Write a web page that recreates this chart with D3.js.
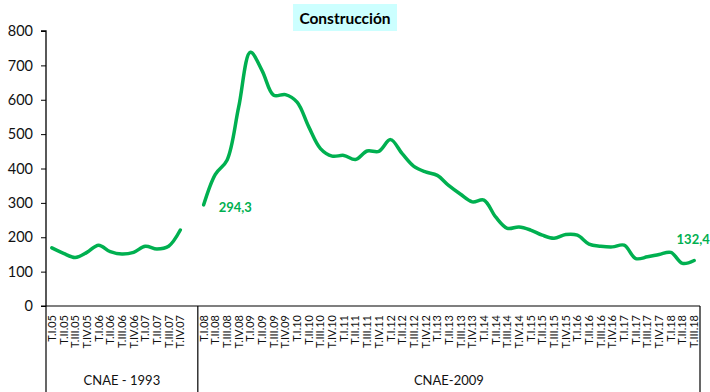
<!DOCTYPE html>
<html>
<head>
<meta charset="utf-8">
<script src="https://cdn.jsdelivr.net/npm/d3@7"></script>
<style>
  html, body { margin: 0; padding: 0; background: #fff; }
  svg { display: block; font-family: Lato, "Liberation Sans", sans-serif; }
</style>
</head>
<body>
<svg id="chart" width="710" height="392"></svg>
<script>
// Quarterly series, Construcción
const periods1993 = ["T.I.05","T.II.05","T.III.05","T.IV.05","T.I.06","T.II.06","T.III.06","T.IV.06","T.I.07","T.II.07","T.III.07","T.IV.07"];
const values1993 = [169,153,141,156,177,158,151,156,174,166,174,221];

const periods2009 = ["T.I.08","T.II.08","T.III.08","T.IV.08","T.I.09","T.II.09","T.III.09","T.IV.09",
  "T.I.10","T.II.10","T.III.10","T.IV.10","T.I.11","T.II.11","T.III.11","T.IV.11",
  "T.I.12","T.II.12","T.III.12","T.IV.12","T.I.13","T.II.13","T.III.13","T.IV.13",
  "T.I.14","T.II.14","T.III.14","T.IV.14","T.I.15","T.II.15","T.III.15","T.IV.15",
  "T.I.16","T.II.16","T.III.16","T.IV.16","T.I.17","T.II.17","T.III.17","T.IV.17",
  "T.I.18","T.II.18","T.III.18"];
const values2009 = [294.3,383,424,579,738,685,613,615,593,521,458,436,438,426,451,450,
  484,443,406,390,380,350,325,303,308,259,226,230,221,206,197,208,206,180,174,172,
  177,138,143,150,156,124,132.4];

const groupNames = ["CNAE - 1993", "CNAE-2009"];
const yTicks = [0,100,200,300,400,500,600,700,800];
const title = "Construcción";

const green = "#00B050";
const svg = d3.select("#chart");
const m = { left: 46, right: 700, top: 31, bottom: 306 };

// Category slots: first classification, one empty slot, second classification
const gapKey = "__gap__";
const keys = periods1993.map(p => "a" + p).concat([gapKey], periods2009.map(p => "b" + p));
const x = d3.scaleBand().domain(keys).range([m.left, m.right]).paddingInner(0).paddingOuter(0);
const y = d3.scaleLinear().domain([0, 800]).range([m.bottom, m.top]);

const pts1993 = periods1993.map((p, i) => ({ key: "a" + p, v: values1993[i] }));
const pts2009 = periods2009.map((p, i) => ({ key: "b" + p, v: values2009[i] }));

// Title
const tg = svg.append("g");
tg.append("rect").attr("x", 293).attr("y", 4).attr("width", 104).attr("height", 27).attr("fill", "#CCFFFF");
tg.append("text").attr("x", 345).attr("y", 23.5).attr("text-anchor", "middle")
  .attr("font-size", 15.5).attr("font-weight", "bold").attr("fill", "#000").text(title);

// Y axis
const yAxis = d3.axisLeft(y).tickValues(yTicks).tickSize(5).tickPadding(8).tickFormat(d3.format("d"));
const yg = svg.append("g").attr("transform", `translate(${m.left},0)`).call(yAxis);
yg.select(".domain").attr("stroke", "#000").attr("stroke-width", 1.3).attr("d", `M-5,${y(800)}H0V${m.bottom}`);
yg.selectAll(".tick line").attr("stroke", "#000").attr("stroke-width", 1);
yg.selectAll(".tick text").attr("font-size", 14.5).attr("fill", "#111").attr("font-family", "Lato, sans-serif");

// X axis line and group frame
const frame = svg.append("g").attr("stroke", "#000").attr("stroke-width", 1.2);
frame.append("line").attr("x1", m.left - 5).attr("x2", m.right).attr("y1", m.bottom).attr("y2", m.bottom);
const divX = [m.left, x(gapKey) + x.bandwidth(), m.right];
divX.forEach(dx => frame.append("line").attr("x1", dx).attr("x2", dx).attr("y1", m.bottom).attr("y2", 392));

// Rotated period labels
const allPts = pts1993.concat(pts2009);
svg.append("g").selectAll("text").data(allPts).join("text")
  .attr("transform", d => `translate(${x(d.key) + x.bandwidth() / 2 + 4},${m.bottom + 9}) rotate(-90)`)
  .attr("text-anchor", "end")
  .attr("font-size", 11).attr("fill", "#111")
  .text(d => d.key.slice(1));

// Group labels
const groupSpans = [[divX[0], divX[1]], [divX[1], divX[2]]];
svg.append("g").selectAll("text").data(groupNames).join("text")
  .attr("x", (d, i) => (groupSpans[i][0] + groupSpans[i][1]) / 2)
  .attr("y", 385).attr("text-anchor", "middle")
  .attr("font-size", 13).attr("fill", "#111").text(d => d);

// Smoothed lines, one per classification
const line = d3.line()
  .x(d => x(d.key) + x.bandwidth() / 2)
  .y(d => y(d.v))
  .curve(d3.curveCatmullRom.alpha(0.5));
[pts1993, pts2009].forEach(pts => {
  svg.append("path").datum(pts).attr("d", line)
    .attr("fill", "none").attr("stroke", green).attr("stroke-width", 3.5)
    .attr("stroke-linejoin", "round").attr("stroke-linecap", "round");
});

// Value labels at the start and end of the current series
const fmt = v => d3.format(".1f")(v).replace(".", ",");
const first = pts2009[0], last = pts2009[pts2009.length - 1];
svg.append("text")
  .attr("x", x(first.key) + x.bandwidth() / 2 + 15).attr("y", y(first.v) + 7)
  .attr("font-size", 13).attr("font-weight", "bold").attr("fill", green).text(fmt(first.v));
svg.append("text")
  .attr("x", x(last.key) + x.bandwidth() / 2 - 1).attr("y", y(last.v) - 16)
  .attr("text-anchor", "middle")
  .attr("font-size", 13).attr("font-weight", "bold").attr("fill", green).text(fmt(last.v));
</script>
</body>
</html>
